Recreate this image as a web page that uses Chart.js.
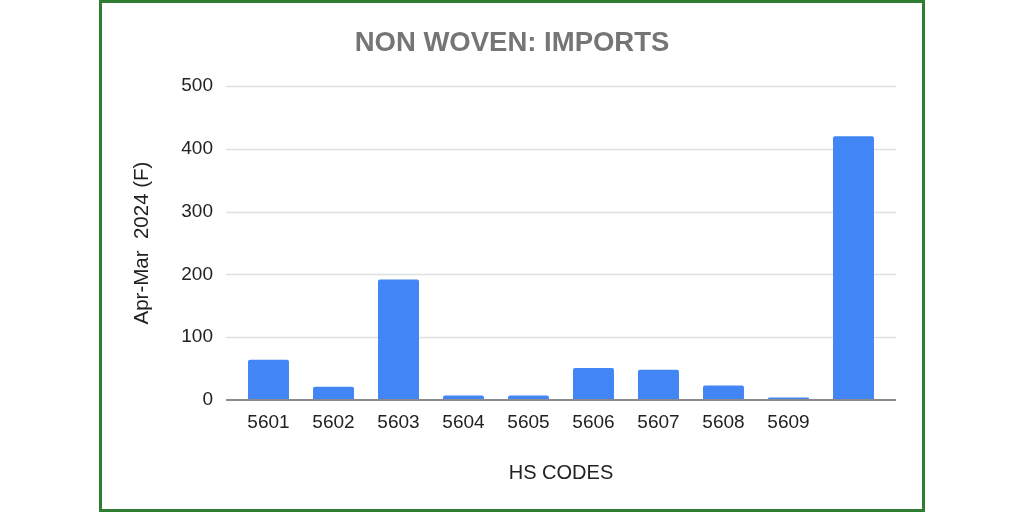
<!DOCTYPE html>
<html>
<head>
<meta charset="utf-8">
<script src="https://cdn.jsdelivr.net/npm/chart.js@4/dist/chart.umd.min.js"></script>
<style>
  html, body { margin: 0; padding: 0; background: #fff; }
  #wrap { position: relative; width: 1024px; height: 512px; overflow: hidden; }
  #c { position: absolute; left: 0; top: 0; }
  #frame { position: absolute; left: 99px; top: 0; width: 820px; height: 506px; border: 3px solid #2e7d32; pointer-events: none; }
</style>
</head>
<body>
<div id="wrap">
  <canvas id="c" width="1024" height="512"></canvas>
  <div id="frame"></div>
</div>
<script>
const categories = ['5601', '5602', '5603', '5604', '5605', '5606', '5607', '5608', '5609', ''];
const imports = [64, 21, 192, 7, 7, 51, 48, 23, 4, 420];
const yTicks = [0, 100, 200, 300, 400, 500];
const chartTitle = 'NON WOVEN: IMPORTS';
const xTitle = 'HS CODES';
const yTitle = 'Apr-Mar  2024 (F)';

const FONT = "'Liberation Sans', Arial, sans-serif";

const gridPlugin = {
  id: 'extGrid',
  beforeDatasetsDraw(chart) {
    const { ctx, chartArea } = chart;
    const y = chart.scales.y;
    ctx.save();
    ctx.strokeStyle = '#e0e0e0';
    ctx.lineWidth = 1.5;
    y.ticks.forEach(t => {
      if (t.value === 0) return;
      const py = Math.round(y.getPixelForValue(t.value)) + 0.5;
      ctx.beginPath();
      ctx.moveTo(chartArea.left - 10, py);
      ctx.lineTo(chartArea.right + 10, py);
      ctx.stroke();
    });
    ctx.restore();
  },
  afterDatasetsDraw(chart) {
    const { ctx, chartArea } = chart;
    const y = chart.scales.y;
    const py = y.getPixelForValue(0);
    ctx.save();
    ctx.strokeStyle = '#8a8a8a';
    ctx.lineWidth = 1.8;
    ctx.beginPath();
    ctx.moveTo(chartArea.left - 10, py);
    ctx.lineTo(chartArea.right + 10, py);
    ctx.stroke();
    ctx.restore();
  }
};

new Chart(document.getElementById('c'), {
  type: 'bar',
  data: {
    labels: categories,
    datasets: [{
      data: imports,
      backgroundColor: '#4285f4',
      borderRadius: 2,
      borderSkipped: 'bottom',
      categoryPercentage: 1,
      barPercentage: 0.63
    }]
  },
  options: {
    responsive: false,
    animation: false,
    devicePixelRatio: 1,
    layout: { padding: { left: 100, right: 100, top: 0, bottom: 22 } },
    plugins: {
      legend: { display: false },
      tooltip: { enabled: false },
      title: {
        display: true,
        text: chartTitle,
        color: '#757575',
        font: { family: FONT, size: 27.5, weight: 'bold' },
        padding: { top: 27, bottom: 26 }
      }
    },
    scales: {
      x: {
        offset: true,
        grid: { display: false, drawTicks: false },
        border: { display: false },
        ticks: {
          color: '#222',
          font: { family: FONT, size: 19 },
          padding: 11,
          maxRotation: 0,
          autoSkip: false
        },
        title: {
          display: true,
          text: xTitle,
          color: '#222',
          font: { family: FONT, size: 20 },
          padding: { top: 0, bottom: 5 }
        },
        afterFit(s) { s.height = 90; }
      },
      y: {
        min: 0,
        max: 500,
        afterBuildTicks(s) { s.ticks = yTicks.map(v => ({ value: v })); },
        grid: { display: false, drawTicks: false },
        border: { display: false },
        ticks: {
          color: '#222',
          font: { family: FONT, size: 19 },
          padding: 23
        },
        title: {
          display: true,
          text: yTitle,
          color: '#222',
          font: { family: FONT, size: 20.5 },
          padding: { top: 30, bottom: 0 }
        },
        afterFit(s) { s.width = 136; }
      },
      yR: {
        position: 'right',
        display: true,
        grid: { display: false, drawTicks: false },
        border: { display: false },
        ticks: { display: false },
        afterFit(s) { s.width = 38; }
      }
    }
  },
  plugins: [gridPlugin]
});
</script>
</body>
</html>
